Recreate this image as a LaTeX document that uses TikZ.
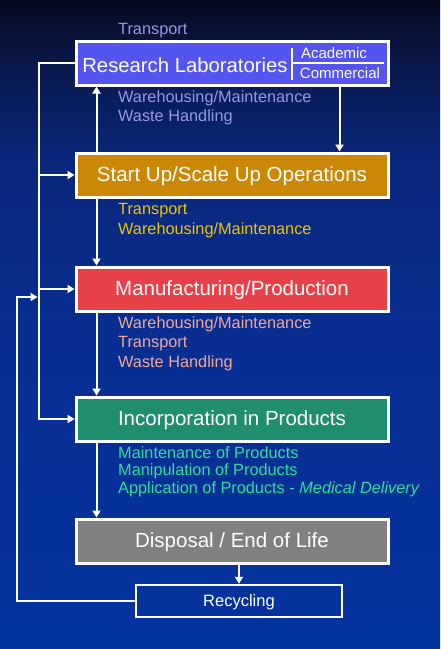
\documentclass[tikz,border=0pt]{standalone}
\usepackage{fontspec}
\setmainfont{Liberation Sans}
\usetikzlibrary{arrows.meta,positioning}

\definecolor{labblue}{RGB}{84,84,238}
\definecolor{startorange}{RGB}{202,136,6}
\definecolor{mfgred}{RGB}{230,64,72}
\definecolor{incgreen}{RGB}{30,142,110}
\definecolor{dispgray}{RGB}{128,128,128}
\definecolor{labnote}{RGB}{150,150,232}
\definecolor{startnote}{RGB}{240,196,0}
\definecolor{mfgnote}{RGB}{240,168,150}
\definecolor{incnote}{RGB}{50,222,150}

\pgfdeclareverticalshading{bgshade}{100bp}{rgb(0bp)=(0.02,0.2,0.62); rgb(25bp)=(0.02,0.2,0.62); rgb(50bp)=(0.03,0.18,0.57); rgb(62.7bp)=(0.04,0.15,0.48); rgb(70bp)=(0.04,0.1,0.3); rgb(75bp)=(0.02,0.04,0.12); rgb(100bp)=(0.02,0.04,0.12)}

\tikzset{
  stage/.style={draw=white, line width=3pt, minimum width=312pt, minimum height=44pt,
    inner sep=0pt, text=white, text height=14.7pt, text depth=1pt,
    font=\fontsize{20.5}{24}\selectfont},
  flow/.style={draw=white, line width=2pt, -{Triangle[length=7pt,width=8pt]}},
  note/.style={anchor=north west, align=left, inner sep=0pt,
    font=\fontsize{16.3}{19.6}\selectfont},
}

\begin{document}
\begin{tikzpicture}[x=1pt,y=-1pt]
      \shade[shading=bgshade] (0,0) rectangle (440,649);
      \useasboundingbox (0,0) rectangle (440,649);
      % stages
      \node[stage, fill=labblue] (lab) at (232,63) {};
      \node[stage, fill=startorange] (start) at (232,175) {Start Up/Scale Up Operations};
      \node[stage, fill=mfgred] (mfg) at (232,289) {Manufacturing/Production};
      \node[stage, fill=incgreen] (inc) at (232,419) {Incorporation in Products};
      \node[stage, fill=dispgray] (disp) at (232,541) {Disposal / End of Life};
      \node[stage, fill=none, line width=2.5pt, minimum width=206pt, minimum height=32pt,
        text height=11.8pt, text depth=1pt, font=\fontsize{16.5}{19}\selectfont] (rec) at (239,601) {Recycling};
      % research box contents
      \node[text=white, text height=14.5pt, text depth=1pt, font=\fontsize{20.3}{24}\selectfont] (labname) at (185,66) {Research Laboratories};
      \node[text=white, font=\fontsize{15}{17}\selectfont] (acad) at (334,53) {Academic};
      \node[text=white, font=\fontsize{15}{17}\selectfont] (comm) at (340,73) {Commercial};
      \draw[white, line width=1.5pt] (292,48) -- (292,80);
      \draw[white, line width=1.5pt] (293,63) -- (384,63);
      % notes
      \node[note, text=labnote] (labtop) at (118,23) {Transport};
      \node[note, text=labnote] (labnotes) at (118,90) {Warehousing/Maintenance\\Waste Handling};
      \node[note, text=startnote, font=\fontsize{16.3}{20}\selectfont] (startnotes) at (118,203)
        {Transport\\Warehousing/Maintenance};
      \node[note, text=mfgnote] (mfgnotes) at (118,316) {Warehousing/Maintenance\\Transport\\Waste Handling};
      \node[note, text=incnote, font=\fontsize{16.3}{17.8}\selectfont] (incnotes) at (118,446)
        {Maintenance of Products\\Manipulation of Products\\Application of Products - \textit{Medical Delivery}};
      % connectors
      \path[flow] ([xshift=22pt]start.north west) -- ([xshift=22pt]lab.south west);
      \path[flow] ([xshift=-50pt]lab.south east) -- ([xshift=-50pt]start.north east);
      \path[flow] ([xshift=22pt]start.south west) -- ([xshift=22pt]mfg.north west);
      \path[flow] ([xshift=22pt]mfg.south west) -- ([xshift=22pt]inc.north west);
      \path[flow] ([xshift=22pt]inc.south west) -- ([xshift=22pt]disp.north west);
      \path[flow] (disp.south -| rec.north) -- (rec.north);
      \path[flow] (lab.west) -- ++(-36,0) coordinate (feed) |- (inc.west);
      \path[flow] (feed |- start.west) -- (start.west);
      \path[flow] (feed |- mfg.west) -- (mfg.west);
      \coordinate (loop) at (17,297);
      \path[flow] (rec.west) -| (loop) -- ([xshift=-1pt]feed |- loop);
    \end{tikzpicture}
\end{document}
